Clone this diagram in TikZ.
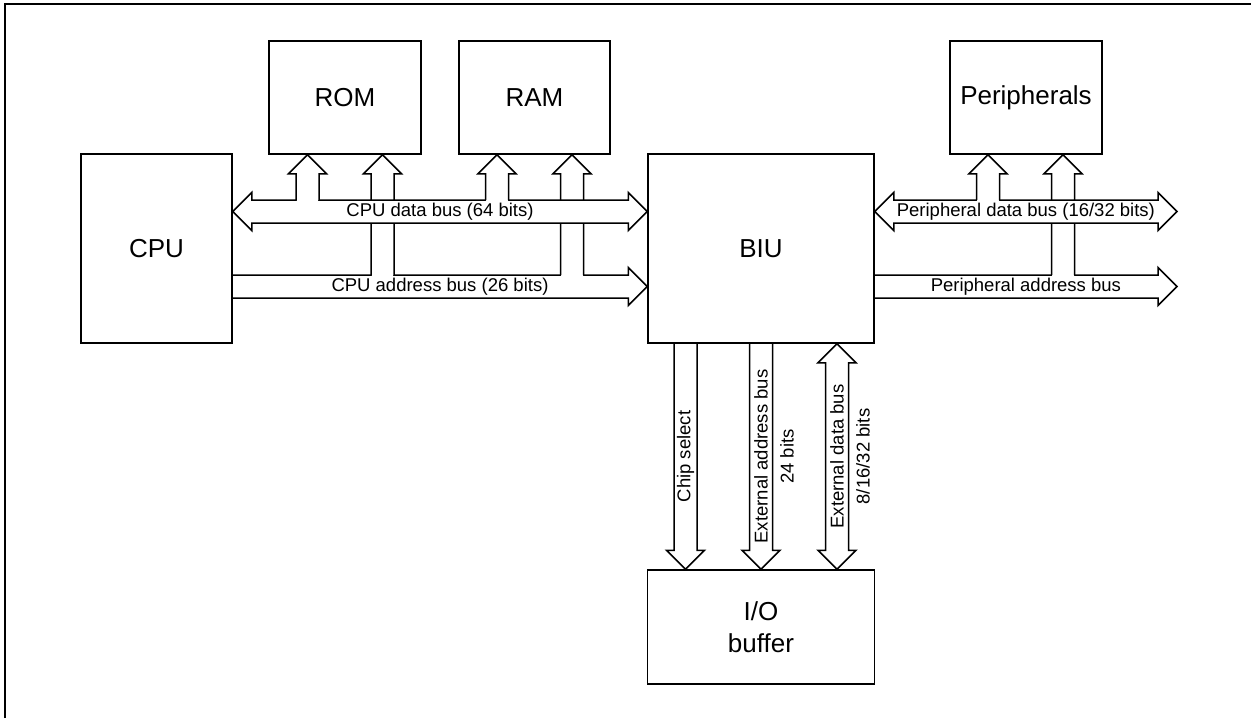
\documentclass[tikz,border=0pt]{standalone}
\usepackage{fontspec}
\setmainfont{Liberation Sans}
\usetikzlibrary{calc,backgrounds}
\def\busL{19pt}
\def\busS{11.5pt}
\def\busW{19pt}
% horizontal double arrow between two points of equal height
\newcommand\hDouble[2]{\path[bus] let \p1=#1, \p2=#2 in
  (\x1,\y1) -- (\x1+\busL,\y1+\busW) -- (\x1+\busL,\y1+\busS) -- (\x2-\busL,\y1+\busS)
  -- (\x2-\busL,\y1+\busW) -- (\x2,\y1) -- (\x2-\busL,\y1-\busW) -- (\x2-\busL,\y1-\busS)
  -- (\x1+\busL,\y1-\busS) -- (\x1+\busL,\y1-\busW) -- cycle;}
% horizontal single arrow, flat start at #1, tip at #2
\newcommand\hSingle[2]{\path[bus] let \p1=#1, \p2=#2 in
  (\x1,\y1+\busS) -- (\x2-\busL,\y1+\busS) -- (\x2-\busL,\y1+\busW) -- (\x2,\y1)
  -- (\x2-\busL,\y1-\busW) -- (\x2-\busL,\y1-\busS) -- (\x1,\y1-\busS);}
% branch going up from a bus (centre point #1) to a box (tip #2)
\newcommand\vUp[2]{%
  \path[fill=white] let \p1=#1, \p2=#2 in
  (\x1-\busS+0.8pt,\y1+\busS-1pt) rectangle (\x1+\busS-0.8pt,\y2-\busL);
  \path[bus] let \p1=#1, \p2=#2 in
  (\x1-\busS,\y1+\busS) -- (\x1-\busS,\y2-\busL) -- (\x1-\busW,\y2-\busL) -- (\x1,\y2)
  -- (\x1+\busW,\y2-\busL) -- (\x1+\busS,\y2-\busL) -- (\x1+\busS,\y1+\busS);}
% vertical single arrow down, flat start at #1, tip at #2
\newcommand\vDown[2]{\path[bus] let \p1=#1, \p2=#2 in
  (\x1-\busS,\y1) -- (\x1-\busS,\y2+\busL) -- (\x1-\busW,\y2+\busL) -- (\x1,\y2)
  -- (\x1+\busW,\y2+\busL) -- (\x1+\busS,\y2+\busL) -- (\x1+\busS,\y1);}
% vertical double arrow, top tip #1, bottom tip #2
\newcommand\vDouble[2]{\path[bus] let \p1=#1, \p2=#2 in
  (\x1,\y1) -- (\x1+\busW,\y1-\busL) -- (\x1+\busS,\y1-\busL) -- (\x1+\busS,\y2+\busL)
  -- (\x1+\busW,\y2+\busL) -- (\x1,\y2) -- (\x1-\busW,\y2+\busL) -- (\x1-\busS,\y2+\busL)
  -- (\x1-\busS,\y1-\busL) -- (\x1-\busW,\y1-\busL) -- cycle;}
\tikzset{
  box/.style={draw, line width=1.5pt, inner sep=0pt, align=center,
    font=\fontsize{26}{32}\selectfont},
  bus/.style={draw, fill=white, line width=1.5pt, line join=miter},
  lbl/.style={inner sep=0pt, font=\fontsize{18.5}{26}\selectfont,
    text height=13.5pt, text depth=3.9pt},
  vlbl/.style={inner sep=0pt, font=\fontsize{18.5}{26}\selectfont,
    rotate=90, align=center},
  frame/.style={line width=2pt}
}
\begin{document}
\begin{tikzpicture}[x=1pt,y=-1pt]
\useasboundingbox (0,0) rectangle (1251,718);
\draw[frame] (5,718) -- (5,3.5) -- (1251,3.5);

\node[box, minimum width=151pt, minimum height=189pt] (cpu) at (156.5,248.5) {CPU};
\node[box, minimum width=152pt, minimum height=113pt] (rom) at (345,97.5) {ROM};
\node[box, minimum width=151pt, minimum height=113pt] (ram) at (534.5,97.5) {RAM};
\node[box, minimum width=226pt, minimum height=189pt] (biu) at (761,248.5) {BIU};
\node[box, minimum width=152pt, minimum height=113pt] (per) at (1026,97.5) {Peripherals};
\node[box, minimum width=227pt, minimum height=114pt] (io) at (761,627) {I/O\\buffer};

\coordinate (yD) at (0,211.5);
\coordinate (yA) at (0,286.5);
\coordinate (xE) at (1177,0);
\coordinate (romD) at ($(rom.south)+(-37.5,0)$);
\coordinate (romA) at ($(rom.south)+(37.5,0)$);
\coordinate (ramD) at ($(ram.south)+(-37.5,0)$);
\coordinate (ramA) at ($(ram.south)+(37.5,0)$);
\coordinate (perD) at ($(per.south)+(-38,0)$);
\coordinate (perA) at ($(per.south)+(37,0)$);
\coordinate (cs) at ($(biu.south)+(-75.5,0)$);
\coordinate (ea) at (biu.south);
\coordinate (ed) at ($(biu.south)+(76,0)$);

\begin{pgfonlayer}{background}
\hSingle{(cpu.east |- yA)}{(biu.west |- yA)}
\hSingle{(biu.east |- yA)}{(xE |- yA)}
\vUp{(romA |- yA)}{(romA)}
\vUp{(ramA |- yA)}{(ramA)}
\vUp{(perA |- yA)}{(perA)}
\hDouble{(cpu.east |- yD)}{(biu.west |- yD)}
\hDouble{(biu.east |- yD)}{(xE |- yD)}
\vUp{(romD |- yD)}{(romD)}
\vUp{(ramD |- yD)}{(ramD)}
\vUp{(perD |- yD)}{(perD)}
\vDown{(cs)}{(cs |- io.north)}
\vDown{(ea)}{(ea |- io.north)}
\vDouble{(ed)}{(ed |- io.north)}
\end{pgfonlayer}

\node[lbl] (lcd) at ($(cpu.east |- yD)!0.5!(biu.west |- yD)$) {CPU data bus (64 bits)};
\node[lbl] (lca) at ($(cpu.east |- yA)!0.5!(biu.west |- yA)$) {CPU address bus (26 bits)};
\node[lbl] (lpd) at ($(biu.east |- yD)!0.5!(xE |- yD)$) {Peripheral data bus (16/32 bits)};
\node[lbl] (lpa) at ($(biu.east |- yA)!0.5!(xE |- yA)$) {Peripheral address bus};
\node[lbl, rotate=90] (lcs) at ($(cs)!0.5!(cs |- io.north)$) {Chip select};
\node[vlbl] (lea) at ($(ea)!0.5!(ea |- io.north)+(13,0)$) {External address bus\\24 bits};
\node[vlbl] (led) at ($(ed)!0.5!(ed |- io.north)+(13,0)$) {External data bus\\8/16/32 bits};
\end{tikzpicture}
\end{document}
